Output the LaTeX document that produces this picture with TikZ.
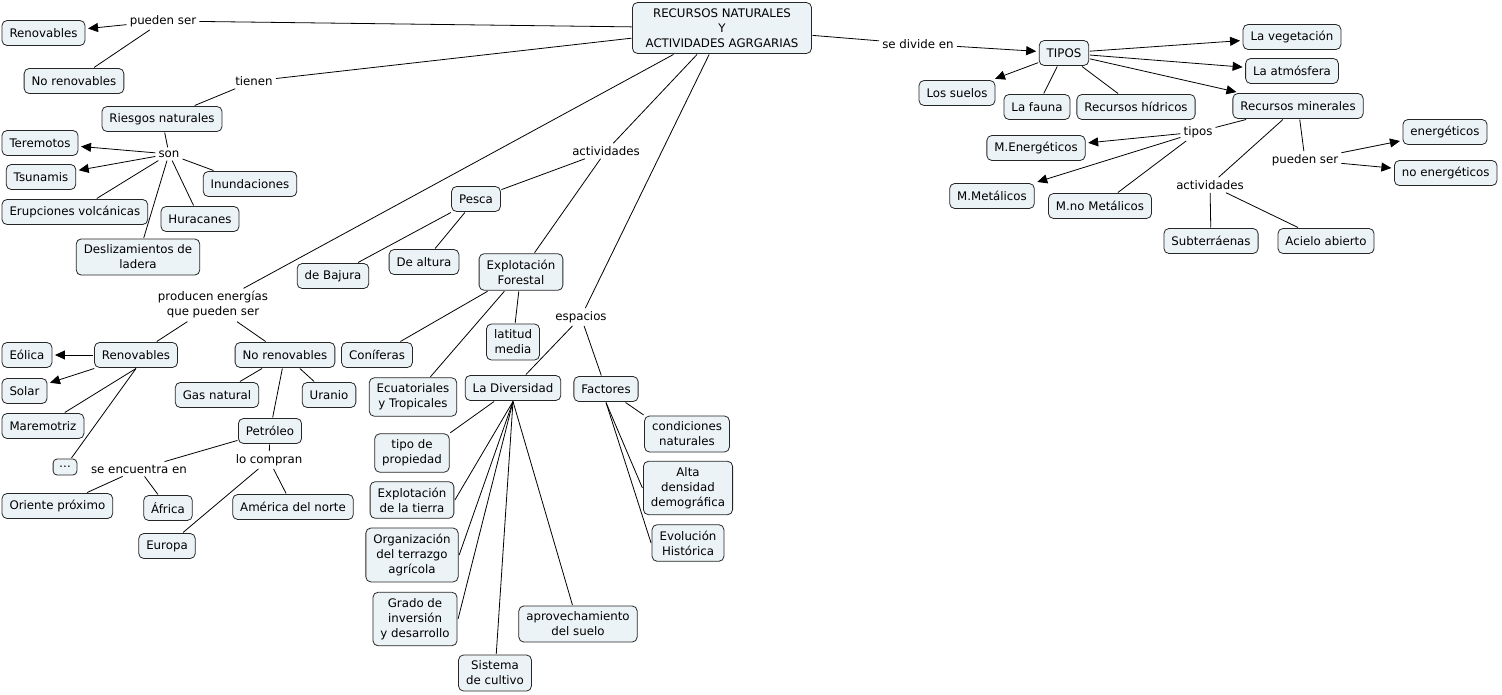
\documentclass[tikz,border=0pt]{standalone}
\usepackage{fontspec}
\setmainfont{DejaVu Sans}
\usepackage{xcolor}
\usetikzlibrary{arrows.meta}
\definecolor{conceptfill}{RGB}{236,243,246}

\begin{document}
\begin{tikzpicture}[x=1pt,y=-1pt,
  every node/.style={font=\fontsize{11.8}{15}\selectfont},
  concept/.style={draw=black!85,fill=conceptfill,rounded corners=5pt,line width=0.8pt,
    inner xsep=7.5pt,inner ysep=6pt,minimum height=25pt,align=center,outer sep=1pt},
  linkword/.style={inner sep=3pt,align=center},
  link/.style={line width=0.8pt},
  arrowlink/.style={line width=0.8pt,-{Triangle[length=10pt,width=9pt]},shorten >=2pt}]
\useasboundingbox (0,0) rectangle (1502,695);

% conceptos
\node[concept,minimum width=179pt] (rec) at (722,28) {RECURSOS NATURALES\\Y\\ACTIVIDADES AGRGARIAS};
\node[linkword] (puedenser) at (163,21) {pueden ser};
\node[concept,anchor=west] (renov) at (1,33) {Renovables};
\node[concept] (norenov) at (74,81) {No renovables};
\node[linkword] (tienen) at (254,81) {tienen};
\node[concept] (riesgos) at (162,119) {Riesgos naturales};
\node[linkword] (son) at (169,154) {son};
\node[concept,anchor=west] (terem) at (1,143) {Teremotos};
\node[concept] (tsun) at (41,177) {Tsunamis};
\node[concept] (inund) at (250,184) {Inundaciones};
\node[concept,anchor=west] (erup) at (1,212) {Erupciones volcánicas};
\node[concept] (hurac) at (200,219) {Huracanes};
\node[concept] (desliz) at (138,257) {Deslizamientos de\\ladera};

\node[linkword] (activ) at (606,151) {actividades};
\node[concept] (pesca) at (476,199) {Pesca};
\node[concept] (bajura) at (333,276) {de Bajura};
\node[concept] (altura) at (424,262) {De altura};
\node[concept] (forestal) at (521,272) {Explotación\\Forestal};
\node[concept] (conif) at (377,355) {Coníferas};
\node[concept] (ecuat) at (413,397) {Ecuatoriales\\y Tropicales};
\node[concept] (latitud) at (513,342) {latitud\\media};

\node[linkword] (espacios) at (581,317) {espacios};
\node[concept] (divers) at (513,388) {La Diversidad};
\node[concept] (tipo) at (412,453) {tipo de\\propiedad};
\node[concept] (explot) at (412,500) {Explotación\\de la tierra};
\node[concept] (organiz) at (412,555) {Organización\\del terrazgo\\agrícola};
\node[concept] (grado) at (415,619) {Grado de\\inversión\\y desarrollo};
\node[concept] (sistema) at (495,673) {Sistema\\de cultivo};
\node[concept] (aprov) at (578,624) {aprovechamiento\\del suelo};
\node[concept] (factores) at (606,389) {Factores};
\node[concept] (condic) at (687,434) {condiciones\\naturales};
\node[concept] (alta) at (688,488) {Alta\\densidad\\demográfica};
\node[concept] (evol) at (688,543) {Evolución\\Histórica};

\node[linkword] (producen) at (213,305) {producen energías\\que pueden ser};
\node[concept] (renov2) at (136,355) {Renovables};
\node[concept,anchor=west] (eolica) at (1,355) {Eólica};
\node[concept,anchor=west] (solar) at (1,391) {Solar};
\node[concept,anchor=west] (marem) at (1,426) {Maremotriz};
\node[concept,minimum height=16pt,inner xsep=6pt,inner ysep=2pt,rounded corners=4pt] (puntos) at (65,467) {\dots};
\node[concept] (norenov2) at (285,355) {No renovables};
\node[concept] (gas) at (217,395) {Gas natural};
\node[concept] (uranio) at (329,395) {Uranio};
\node[concept] (petroleo) at (270,431) {Petróleo};
\node[linkword] (seencuentra) at (139,469) {se encuentra en};
\node[linkword] (locompran) at (269,460) {lo compran};
\node[concept,anchor=west] (oriente) at (1,506) {Oriente próximo};
\node[concept] (africa) at (168,508) {África};
\node[concept] (america) at (293,507) {América del norte};
\node[concept] (europa) at (167,546) {Europa};

\node[linkword] (divide) at (918,44) {se divide en};
\node[concept] (tipos) at (1064,53) {TIPOS};
\node[concept] (veget) at (1292,37) {La vegetación};
\node[concept] (atmos) at (1292,71) {La atmósfera};
\node[concept] (suelos) at (957,93) {Los suelos};
\node[concept] (fauna) at (1037,107) {La fauna};
\node[concept] (hidricos) at (1136,107) {Recursos hídricos};
\node[concept] (minerales) at (1298,106) {Recursos minerales};
\node[linkword] (tiposlbl) at (1198,132) {tipos};
\node[concept] (menerg) at (1036,148) {M.Energéticos};
\node[concept] (mmetal) at (992,196) {M.Metálicos};
\node[concept] (mnometal) at (1100,206) {M.no Metálicos};
\node[linkword] (puedenser2) at (1305,160) {pueden ser};
\node[concept] (energ) at (1445,132) {energéticos};
\node[concept,anchor=east] (noenerg) at (1498,173) {no energéticos};
\node[linkword] (activ2) at (1210,185) {actividades};
\node[concept] (subter) at (1211,241) {Subterráenas};
\node[concept] (acielo) at (1326,241) {Acielo abierto};

% enlaces
\draw[link] (rec) -- (puedenser);
\draw[arrowlink] (puedenser) -- (renov);
\draw[link] (puedenser) -- (norenov);
\draw[link] (rec) -- (tienen);
\draw[link] (tienen) -- (riesgos);
\draw[link] (riesgos) -- (son);
\draw[arrowlink] (son) -- (terem);
\draw[arrowlink] (son) -- (tsun);
\draw[link] (son) -- (erup);
\draw[link] (son) -- (desliz);
\draw[link] (son) -- (hurac);
\draw[link] (son) -- (inund);

\draw[link] (rec) -- (activ);
\draw[link] (activ) -- (pesca);
\draw[link] (activ) -- (forestal);
\draw[link] (pesca) -- (bajura);
\draw[link] (pesca) -- (altura);
\draw[link] (forestal) -- (conif);
\draw[link] (forestal) -- (ecuat);
\draw[link] (forestal) -- (latitud);

\draw[link] (rec) -- (espacios);
\draw[link] (espacios) -- (divers);
\draw[link] (espacios) -- (factores);
\draw[link] (divers) -- (tipo.north east);
\draw[link] (divers.south) -- (explot.east);
\draw[link] (divers.south) -- (organiz.east);
\draw[link] (divers.south) -- (grado.east);
\draw[link] (divers.south) -- (sistema);
\draw[link] (divers.south) -- (aprov);
\draw[link] (factores) -- (condic.north west);
\draw[link] (factores.south) -- (alta.west);
\draw[link] (factores.south) -- (evol.west);

\draw[link] (rec) -- (producen);
\draw[link] (producen) -- (renov2);
\draw[link] (producen) -- (norenov2);
\draw[arrowlink] (renov2) -- (eolica);
\draw[arrowlink] (renov2) -- (solar);
\draw[link] (renov2.south) -- (marem);
\draw[link] (renov2.south) -- (puntos);
\draw[link] (norenov2) -- (gas);
\draw[link] (norenov2) -- (uranio);
\draw[link] (norenov2) -- (petroleo);
\draw[link] (petroleo) -- (seencuentra);
\draw[link] (seencuentra) -- (oriente);
\draw[link] (seencuentra) -- (africa);
\draw[link] (petroleo) -- (locompran);
\draw[link] (locompran) -- (europa);
\draw[link] (locompran) -- (america);

\draw[link] (rec) -- (divide);
\draw[arrowlink] (divide) -- (tipos);
\draw[arrowlink] (tipos) -- (veget);
\draw[arrowlink] (tipos) -- (atmos);
\draw[arrowlink] (tipos) -- (minerales);
\draw[arrowlink] (tipos) -- (suelos);
\draw[link] (tipos) -- (fauna);
\draw[link] (tipos) -- (hidricos);
\draw[link] (minerales) -- (tiposlbl);
\draw[arrowlink] (tiposlbl) -- (menerg);
\draw[arrowlink] (tiposlbl) -- (mmetal);
\draw[link] (tiposlbl) -- (mnometal);
\draw[link] (minerales) -- (puedenser2);
\draw[arrowlink] (puedenser2) -- (energ);
\draw[arrowlink] (puedenser2) -- (noenerg);
\draw[link] (minerales) -- (activ2);
\draw[link] (activ2) -- (subter);
\draw[link] (activ2) -- (acielo);
\end{tikzpicture}
\end{document}
